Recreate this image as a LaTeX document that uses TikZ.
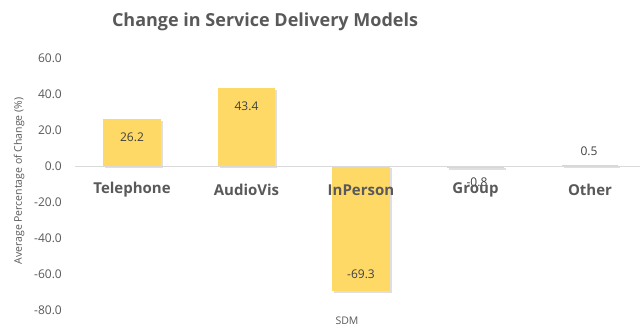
\documentclass[tikz,border=0pt]{standalone}
\usepackage{fontspec}
\setmainfont{Open Sans}
\usetikzlibrary{shadows}
\definecolor{bargold}{HTML}{FFD966}
\definecolor{txtgrey}{HTML}{595959}
\definecolor{valgrey}{HTML}{404040}
\definecolor{axisgrey}{HTML}{D9D9D9}
\tikzset{
  bar/.style={fill=bargold, draw=none, drop shadow={shadow xshift=1.5pt, shadow yshift=-2pt, opacity=0.25}},
  ticklbl/.style={anchor=east, text=txtgrey, font=\fontsize{12}{14}\selectfont, inner sep=0pt},
  vallbl/.style={text=valgrey, font=\fontsize{12}{14}\selectfont, inner sep=0pt},
  catlbl/.style={text=txtgrey, font=\fontsize{15}{17}\selectfont\bfseries, inner sep=0pt},
}
\begin{document}
\begin{tikzpicture}[x=1pt,y=-1pt]
\useasboundingbox (0,0) rectangle (643,327);
% title
\node[text=txtgrey, font=\fontsize{18}{20}\selectfont\bfseries, inner sep=0pt] (title) at (265,22) {Change in Service Delivery Models};
% y tick labels
\node[ticklbl] (t60) at (62,58) {60.0};
\node[ticklbl] (t40) at (62,94) {40.0};
\node[ticklbl] (t20) at (62,130) {20.0};
\node[ticklbl] (t0) at (62,166) {0.0};
\node[ticklbl] (tm20) at (62,202) {-20.0};
\node[ticklbl] (tm40) at (62,238) {-40.0};
\node[ticklbl] (tm60) at (62,274) {-60.0};
\node[ticklbl] (tm80) at (62,310) {-80.0};
% y axis title
\node[rotate=90, text=txtgrey, font=\fontsize{10.5}{12}\selectfont, inner sep=0pt] (ytitle) at (19,181) {Average Percentage of Change (\%)};
% bars
\path[bar] (103,166) rectangle (161,119);
\path[bar] (218,166) rectangle (275,88);
\path[bar] (332,166) rectangle (390,291);
\path[bar] (447,166) rectangle (504,168);
\path[bar] (562,166) rectangle (618,165);
% axis
\coordinate (axL) at (75,166);
\coordinate (axR) at (640,166);
\draw[axisgrey, line width=1pt] (axL) -- (axR);
% value labels
\node[vallbl] (v1) at (132,137) {26.2};
\node[vallbl] (v2) at (246.5,106) {43.4};
\node[vallbl] (v3) at (361,274) {-69.3};
\node[vallbl] (v4) at (477,182) {-0.8};
\node[vallbl] (v5) at (589,151) {0.5};
% category labels
\node[catlbl] (c1) at (132,190) {Telephone};
\node[catlbl] (c2) at (246.5,190) {AudioVis};
\node[catlbl] (c3) at (361,190) {InPerson};
\node[catlbl] (c4) at (475.5,190) {Group};
\node[catlbl] (c5) at (590,190) {Other};
% x axis title
\node[text=txtgrey, font=\fontsize{10.5}{12}\selectfont, inner sep=0pt] (xtitle) at (347,321) {SDM};
\end{tikzpicture}
\end{document}
